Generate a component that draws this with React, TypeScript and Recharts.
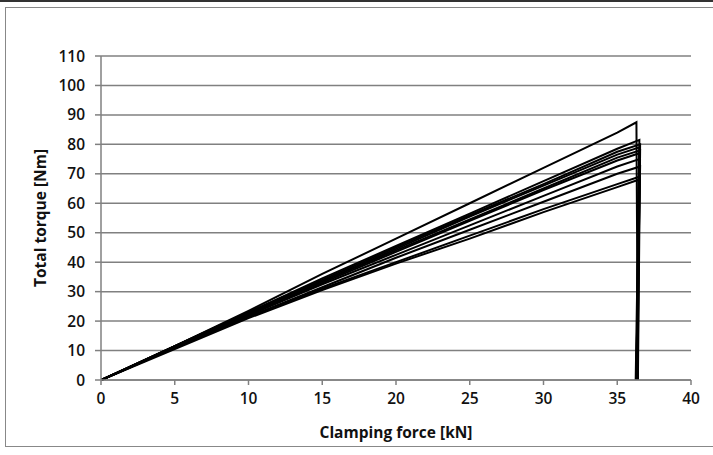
import React from 'react';
import { LineChart, Line, XAxis, YAxis, CartesianGrid } from 'recharts';

const clampingForce = [0, 5, 10, 15, 20, 25, 30, 35];
const xTicks = [0, 5, 10, 15, 20, 25, 30, 35, 40];
const yTicks = [0, 10, 20, 30, 40, 50, 60, 70, 80, 90, 100, 110];

const torqueRun1 = [0, 11.5, 23.5, 36, 48, 60, 72, 84];
const torqueRun2 = [0, 11.5, 23, 34.5, 45.5, 56.5, 67.5, 78.5];
const torqueRun3 = [0, 11.5, 23, 34, 45, 56, 66.5, 77.5];
const torqueRun4 = [0, 11.5, 22.5, 33.5, 44.5, 55.5, 66, 76.5];
const torqueRun5 = [0, 11, 22.5, 33.5, 44, 54.5, 65, 75.5];
const torqueRun6 = [0, 11, 22, 33, 43.5, 54, 64.5, 74.5];
const torqueRun7 = [0, 11, 22, 32.5, 42.5, 52.5, 62.5, 72.5];
const torqueRun8 = [0, 11, 21.5, 31.5, 41.5, 51, 60.5, 70];
const torqueRun9 = [0, 11, 21.5, 31, 40, 49, 58, 66.5];
const torqueRun10 = [0, 10.5, 21, 30.5, 39.5, 48, 57, 65.5];

const peakForce = [36.3, 36.5, 36.55, 36.5, 36.55, 36.5, 36.5, 36.55, 36.5, 36.45];
const peakTorque = [87.5, 81.5, 80, 79, 78, 77, 75, 72.5, 69, 68];
const releaseForce = [36.4, 36.3, 36.35, 36.25, 36.4, 36.3, 36.35, 36.28, 36.38, 36.32];

const runs = [
  torqueRun1, torqueRun2, torqueRun3, torqueRun4, torqueRun5,
  torqueRun6, torqueRun7, torqueRun8, torqueRun9, torqueRun10,
];

const series = runs.map((run, i) => [
  ...clampingForce.map((x, j) => ({ x, y: run[j] })),
  { x: peakForce[i], y: peakTorque[i] },
  { x: releaseForce[i], y: 0 },
]);

const FONT = '"Open Sans", sans-serif';

const YLabel = (props: any) => {
  const vb = props.viewBox || {};
  const cy = vb.y + vb.height / 2;
  const cx = 40;
  return (
    <text x={cx} y={cy} transform={`rotate(-90 ${cx} ${cy})`} textAnchor="middle" dominantBaseline="central"
      style={{ fontFamily: FONT, fontSize: 15.5, fontWeight: 700, fill: '#111' }}>
      Total torque [Nm]
    </text>
  );
};

const XLabel = (props: any) => {
  const vb = props.viewBox || {};
  const cx = vb.x + vb.width / 2;
  return (
    <text x={cx} y={432} textAnchor="middle" dominantBaseline="central"
      style={{ fontFamily: FONT, fontSize: 15.5, fontWeight: 700, fill: '#111' }}>
      Clamping force [kN]
    </text>
  );
};

export default function App() {
  return (
    <div style={{ position: 'absolute', left: 0, top: 0, width: 713, height: 455, background: '#fff', overflow: 'hidden' }}>
      <div style={{ position: 'absolute', left: 0, top: 0, width: 713, height: 2, background: '#333' }} />
      <div style={{ position: 'absolute', left: 5, top: 7, width: 730, height: 440, border: '1.5px solid #888', boxSizing: 'border-box' }} />
      <div style={{ position: 'absolute', left: 0, top: 0 }}>
        <LineChart width={713} height={455} margin={{ top: 56, right: 22, bottom: 0, left: 0 }}>
          <CartesianGrid vertical={false} stroke="#808080" strokeWidth={1.5} />
          <XAxis
            type="number"
            dataKey="x"
            domain={[0, 40]}
            ticks={xTicks}
            allowDataOverflow
            height={75}
            axisLine={{ stroke: '#808080', strokeWidth: 1.5 }}
            tickLine={{ stroke: '#808080', strokeWidth: 1.5 }}
            tickSize={5}
            tickMargin={8}
            tick={{ fontFamily: FONT, fontSize: 15.5, fontWeight: 600, fill: '#111' }}
            label={<XLabel />}
          />
          <YAxis
            type="number"
            domain={[0, 110]}
            ticks={yTicks}
            width={101}
            axisLine={{ stroke: '#808080', strokeWidth: 1.5 }}
            tickLine={{ stroke: '#808080', strokeWidth: 1.5 }}
            tickSize={6}
            tickMargin={10}
            tick={{ fontFamily: FONT, fontSize: 15.5, fontWeight: 600, fill: '#111' }}
            label={<YLabel />}
          />
          {series.map((d, i) => (
            <Line
              key={i}
              data={d}
              dataKey="y"
              type="linear"
              stroke="#000"
              strokeWidth={2}
              dot={false}
              activeDot={false}
              isAnimationActive={false}
            />
          ))}
        </LineChart>
      </div>
    </div>
  );
}
